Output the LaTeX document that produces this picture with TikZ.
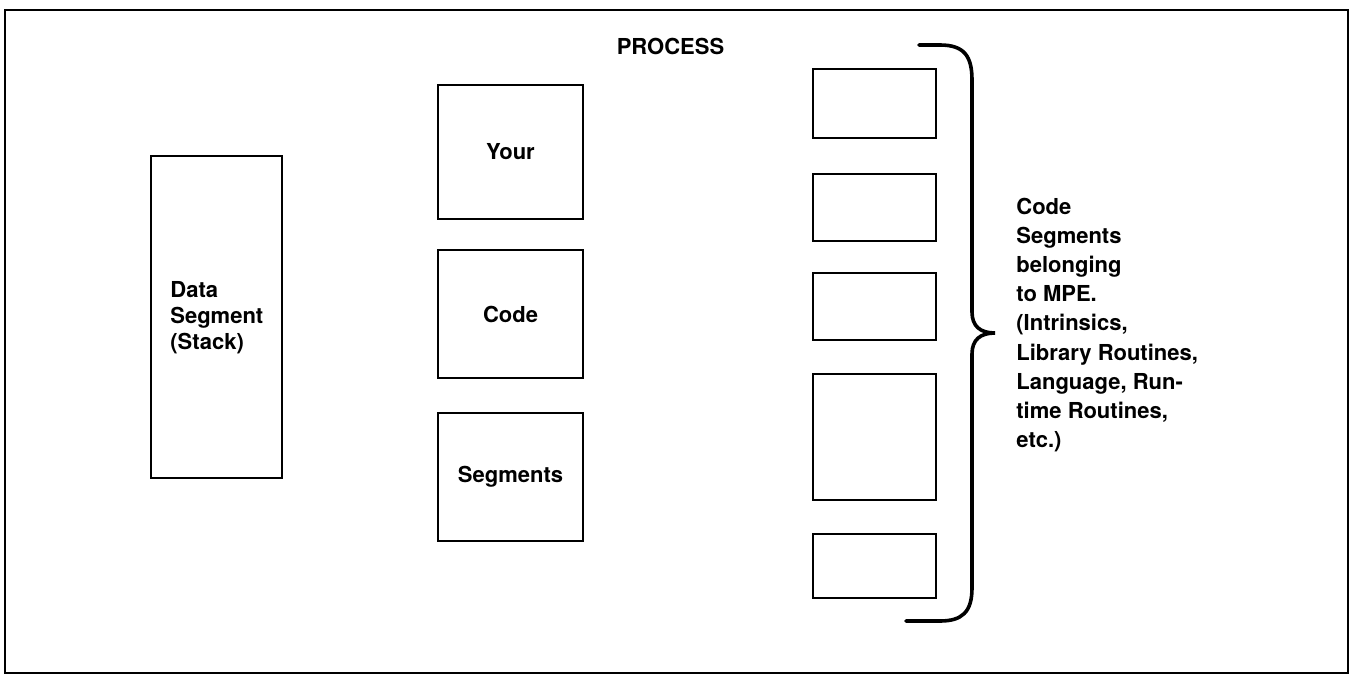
\documentclass[tikz,border=0pt]{standalone}
\usepackage{fontspec}
\setmainfont{TeX Gyre Heros}
\usetikzlibrary{positioning}

\begin{document}
\begin{tikzpicture}[x=0.5pt,y=-0.5pt,
    segbox/.style={draw,line width=1pt,minimum width=72.5pt,font=\bfseries\fontsize{11}{13}\selectfont},
    mpebox/.style={draw,line width=1pt,minimum width=61.5pt},
    txt/.style={align=left,inner sep=0pt,font=\bfseries\fontsize{11}{13}\selectfont},
    brace/.style={line width=1.8pt,line cap=round}]
  \useasboundingbox (0,0) rectangle (1351,675);
  \draw[line width=1.2pt] (5,10) rectangle (1348,673);
  \node[txt] (process) at (670.5,46) {PROCESS};
  % stack
  \node[draw,line width=1pt,minimum width=65.5pt,minimum height=161pt] (data) at (216.5,317) {};
  \node[txt,anchor=west] (datalbl) at (170,317.5) {Data\\Segment\\(Stack)};
  % user code segments
  \node[segbox,minimum height=67pt] (your) at (510.5,152) {Your};
  \node[segbox,minimum height=64pt,below=14.5pt of your] (code) {Code};
  \node[segbox,minimum height=64pt,below=16.5pt of code] (segs) {Segments};
  % MPE code segments
  \node[mpebox,minimum height=34.5pt] (mpe1) at (874.5,103.5) {};
  \node[mpebox,minimum height=33.5pt,below=17pt of mpe1] (mpe2) {};
  \node[mpebox,minimum height=33.5pt,below=15pt of mpe2] (mpe3) {};
  \node[mpebox,minimum height=63pt,below=16pt of mpe3] (mpe4) {};
  \node[mpebox,minimum height=32pt,below=16pt of mpe4] (mpe5) {};
  \coordinate (bracetop) at (919,45);
  \coordinate (bracetip) at (995,333);
  \coordinate (bracebot) at (906,621);
  \draw[brace] (bracetop) -- (940,45) .. controls (964,45) and (972,56) .. (972,80)
    -- (972,312) .. controls (972,326) and (980,333) .. (bracetip)
    .. controls (980,333) and (972,340) .. (972,354)
    -- (972,588) .. controls (972,612) and (962,621) .. (940,621) -- (bracebot);
  \node[txt,anchor=west,font=\bfseries\fontsize{11}{14.6}\selectfont] (mpelbl) at (1016,325)
    {Code\\Segments\\belonging\\to MPE.\\(Intrinsics,\\Library Routines,\\Language, Run-\\time Routines,\\etc.)};
\end{tikzpicture}
\end{document}
